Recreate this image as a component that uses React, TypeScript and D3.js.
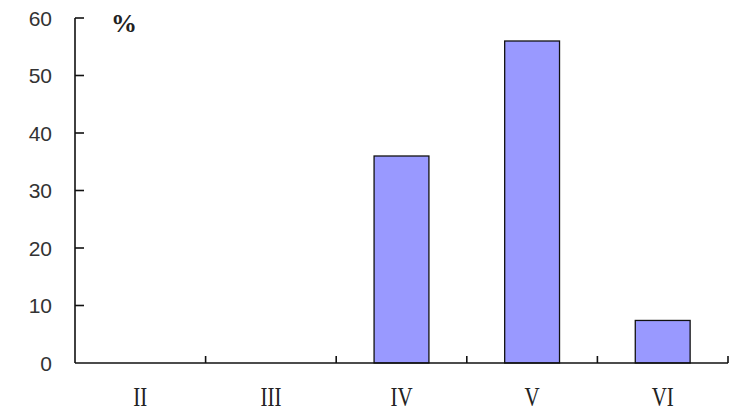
import React from "react";
import * as d3 from "d3";

const categories = ["II", "III", "IV", "V", "VI"];
const values = [0, 0, 36, 56, 7.4];
const yTicks = [0, 10, 20, 30, 40, 50, 60];
const unitLabel = "%";

const W = 729;
const H = 412;

export default function App() {
  const x = d3
    .scaleBand<string>()
    .domain(categories)
    .range([75, 728])
    .paddingInner(0.58)
    .paddingOuter(0.29);
  const y = d3.scaleLinear().domain([0, 60]).range([363, 18]);
  const step = x.step();
  const x0 = 75;
  const boundaries = categories.map((_, i) => x0 + (i + 1) * step);

  return (
    <svg
      width={W}
      height={H}
      style={{ position: "absolute", left: 0, top: 0, background: "#fff" }}
    >
      {categories.map((c, i) =>
        values[i] > 0 ? (
          <rect
            key={c}
            x={x(c)!}
            y={y(values[i])}
            width={x.bandwidth()}
            height={y(0) - y(values[i])}
            fill="#9999FF"
            stroke="#111"
            strokeWidth={1.3}
          />
        ) : null
      )}
      <line x1={x0} x2={x0} y1={y(60)} y2={y(0)} stroke="#111" strokeWidth={1.6} />
      {yTicks.map((t) => (
        <g key={t}>
          {t !== 0 && (
            <line x1={x0} x2={x0 + 9} y1={y(t)} y2={y(t)} stroke="#111" strokeWidth={1.6} />
          )}
          <text
            x={52}
            y={y(t)}
            dy="0.36em"
            textAnchor="end"
            fontFamily="Liberation Sans, Arial, sans-serif"
            fontSize={21}
            fill="#333"
          >
            {t}
          </text>
        </g>
      ))}
      <line x1={x0} x2={728} y1={y(0)} y2={y(0)} stroke="#111" strokeWidth={1.6} />
      {boundaries.map((b, i) => (
        <line key={i} x1={b} x2={b} y1={y(0)} y2={y(0) - 7} stroke="#111" strokeWidth={1.6} />
      ))}
      {categories.map((c) => (
        <text
          key={c}
          transform={`translate(${x(c)! + x.bandwidth() / 2},405.5) scale(1,1.25)`}
          textAnchor="middle"
          fontFamily="Liberation Serif, Times New Roman, serif"
          fontSize={21}
          fill="#222"
        >
          {c}
        </text>
      ))}
      <text
        x={124}
        y={32}
        textAnchor="middle"
        fontFamily="Liberation Serif, Times New Roman, serif"
        fontWeight="bold"
        fontSize={26}
        fill="#222"
      >
        {unitLabel}
      </text>
    </svg>
  );
}
